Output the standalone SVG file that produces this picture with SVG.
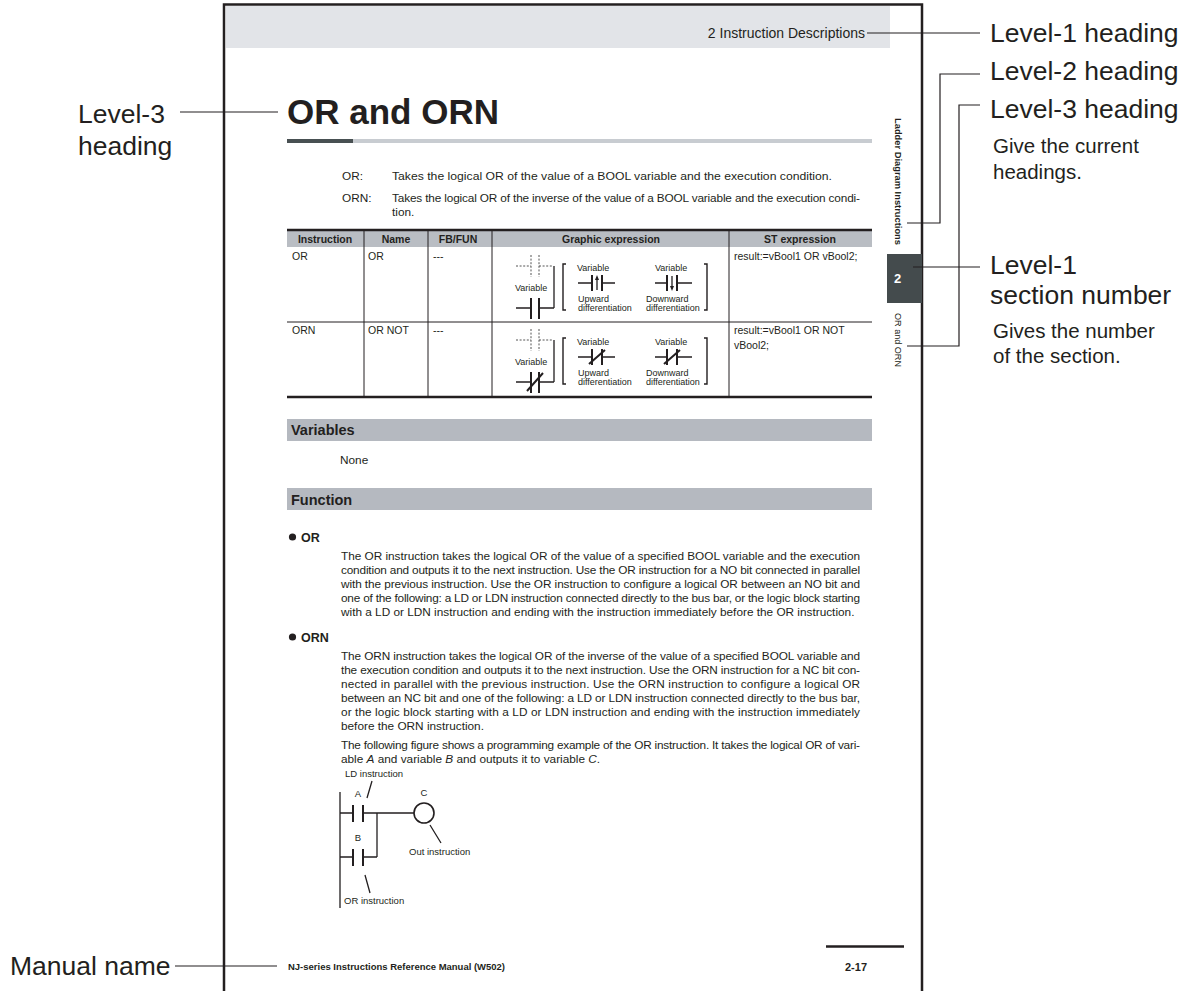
<svg xmlns="http://www.w3.org/2000/svg" width="1192" height="991" viewBox="0 0 1192 991">
<style>
text{font-family:"Liberation Sans",Arial,Helvetica,sans-serif;fill:#231f20}
.lab{font-size:26.5px}
.note{font-size:20.5px}
.body{font-size:11.8px}
.tb{font-size:10.5px}
.th{font-size:10.5px;font-weight:bold;text-anchor:middle}
.g{font-size:9px}
.b{font-weight:bold}
.i{font-style:italic}
.ln{stroke:#231f20;stroke-width:1.2;fill:none}
.frame{stroke:#231f20;stroke-width:2.5;fill:none}
.w{stroke:#231f20;stroke-width:1.3;fill:none}
.bar{stroke:#231f20;stroke-width:2;fill:none}
.dot{stroke:#555;stroke-width:1;stroke-dasharray:2 1.6;fill:none}
.br{stroke:#231f20;stroke-width:1.4;fill:none}
</style>

<!-- page -->
<g id="page">
  <rect x="226" y="6" width="664" height="42" fill="#e2e4e8"/>
  <path class="frame" d="M224 991V4.5H922V991"/>
  <text x="865" y="38" font-size="14" text-anchor="end">2 Instruction Descriptions</text>
</g>

<!-- title -->
<g id="title">
  <text x="287" y="124" font-size="35" class="b">OR and ORN</text>
  <rect x="287" y="139" width="585" height="4" fill="#c8ccd1"/>
  <rect x="287" y="139" width="66" height="4" fill="#485052"/>
  <text class="body" x="342" y="180">OR:</text>
  <text class="body" x="392" y="180" textLength="440" lengthAdjust="spacingAndGlyphs">Takes the logical OR of the value of a BOOL variable and the execution condition.</text>
  <text class="body" x="342" y="202">ORN:</text>
  <text class="body" x="392" y="202" textLength="468" lengthAdjust="spacing">Takes the logical OR of the inverse of the value of a BOOL variable and the execution condi-</text>
  <text class="body" x="392" y="216">tion.</text>
</g>

<!-- table -->
<g id="table">
  <rect x="287" y="231" width="585" height="16" fill="#b9bdc3"/>
  <path d="M287 230H872M287 397H872" stroke="#231f20" stroke-width="2.5"/>
  <path d="M287 322H872M364 231V397M428 231V397M492 231V397M729 231V397" stroke="#231f20" stroke-width="1"/>
  <text class="th" x="325" y="243">Instruction</text>
  <text class="th" x="396" y="243">Name</text>
  <text class="th" x="458" y="243">FB/FUN</text>
  <text class="th" x="611" y="243">Graphic expression</text>
  <text class="th" x="800" y="243">ST expression</text>

  <text class="tb" x="292" y="260">OR</text>
  <text class="tb" x="368" y="260">OR</text>
  <text class="tb" x="433" y="260">---</text>
  <text class="tb" x="734" y="260">result:=vBool1 OR vBool2;</text>

  <text class="tb" x="292" y="334">ORN</text>
  <text class="tb" x="368" y="334">OR NOT</text>
  <text class="tb" x="433" y="334">---</text>
  <text class="tb" x="734" y="334">result:=vBool1 OR NOT</text>
  <text class="tb" x="734" y="349">vBool2;</text>
</g>

<!-- graphic expression row 1 -->
<g id="graphic-or">
  <path class="dot" d="M516 266H531M539 266H553M531 255V277M539 255V277"/>
  <path class="w" d="M554 266V308M516 308H531M539 308H554"/>
  <path class="bar" d="M531 298V319M539 298V319"/>
  <text class="g" x="515" y="291">Variable</text>
  <path class="br" d="M566 264H563V310H566M704 264H707V310H704"/>
  <text class="g" x="577" y="271">Variable</text>
  <path class="w" d="M578 283H592M602 283H615M597 290V279"/>
  <path class="bar" d="M592 275V291M602 275V291"/>
  <path d="M597 275L595 280H599Z" fill="#231f20"/>
  <text class="g" x="578" y="302">Upward</text>
  <text class="g" x="578" y="311">differentiation</text>
  <text class="g" x="655" y="271">Variable</text>
  <path class="w" d="M655 283H667M677 283H692M672 276V287"/>
  <path class="bar" d="M667 275V291M677 275V291"/>
  <path d="M672 291L670 286H674Z" fill="#231f20"/>
  <text class="g" x="646" y="302">Downward</text>
  <text class="g" x="646" y="311">differentiation</text>
</g>

<!-- graphic expression row 2 -->
<g id="graphic-orn">
  <path class="dot" d="M516 340H531M539 340H553M531 329V351M539 329V351"/>
  <path class="w" d="M554 340V382M516 382H531M539 382H554"/>
  <path class="bar" d="M531 372V393M539 372V393M527 391L543 373"/>
  <text class="g" x="515" y="365">Variable</text>
  <path class="br" d="M566 338H563V384H566M704 338H707V384H704"/>
  <text class="g" x="577" y="345">Variable</text>
  <path class="w" d="M578 357H592M602 357H615"/>
  <path class="bar" d="M592 349V365M602 349V365M589 364L605 350"/>
  <text class="g" x="578" y="376">Upward</text>
  <text class="g" x="578" y="385">differentiation</text>
  <text class="g" x="655" y="345">Variable</text>
  <path class="w" d="M655 357H667M677 357H692"/>
  <path class="bar" d="M667 349V365M677 349V365M664 364L680 350"/>
  <text class="g" x="646" y="376">Downward</text>
  <text class="g" x="646" y="385">differentiation</text>
</g>

<!-- section bands -->
<g id="variables">
  <rect x="287" y="419" width="585" height="22" fill="#b5b9c0"/>
  <text x="291" y="435" font-size="14.5" class="b">Variables</text>
  <text class="body" x="340" y="464">None</text>
</g>

<g id="function">
  <rect x="287" y="488" width="585" height="22" fill="#b5b9c0"/>
  <text x="291" y="505" font-size="14.5" class="b">Function</text>

  <circle cx="292.5" cy="537" r="3.6" fill="#231f20"/>
  <text x="301" y="542" font-size="12.5" class="b">OR</text>
  <text class="body" x="341" y="560" textLength="519" lengthAdjust="spacing">The OR instruction takes the logical OR of the value of a specified BOOL variable and the execution</text>
  <text class="body" x="341" y="574" textLength="519" lengthAdjust="spacing">condition and outputs it to the next instruction. Use the OR instruction for a NO bit connected in parallel</text>
  <text class="body" x="341" y="588" textLength="519" lengthAdjust="spacing">with the previous instruction. Use the OR instruction to configure a logical OR between an NO bit and</text>
  <text class="body" x="341" y="602" textLength="519" lengthAdjust="spacing">one of the following: a LD or LDN instruction connected directly to the bus bar, or the logic block starting</text>
  <text class="body" x="341" y="616">with a LD or LDN instruction and ending with the instruction immediately before the OR instruction.</text>

  <circle cx="292.5" cy="637" r="3.6" fill="#231f20"/>
  <text x="301" y="642" font-size="12.5" class="b">ORN</text>
  <text class="body" x="341" y="660" textLength="519" lengthAdjust="spacing">The ORN instruction takes the logical OR of the inverse of the value of a specified BOOL variable and</text>
  <text class="body" x="341" y="674" textLength="519" lengthAdjust="spacing">the execution condition and outputs it to the next instruction. Use the ORN instruction for a NC bit con-</text>
  <text class="body" x="341" y="688" textLength="519" lengthAdjust="spacing">nected in parallel with the previous instruction. Use the ORN instruction to configure a logical OR</text>
  <text class="body" x="341" y="702" textLength="519" lengthAdjust="spacing">between an NC bit and one of the following: a LD or LDN instruction connected directly to the bus bar,</text>
  <text class="body" x="341" y="716" textLength="519" lengthAdjust="spacing">or the logic block starting with a LD or LDN instruction and ending with the instruction immediately</text>
  <text class="body" x="341" y="730">before the ORN instruction.</text>
  <text class="body" x="341" y="749" textLength="519" lengthAdjust="spacing">The following figure shows a programming example of the OR instruction. It takes the logical OR of vari-</text>
  <text class="body" x="341" y="763">able <tspan class="i">A</tspan> and variable <tspan class="i">B</tspan> and outputs it to variable <tspan class="i">C</tspan>.</text>
</g>

<!-- ladder example -->
<g id="ladder">
  <path class="w" d="M340 792V908M340 813H353M363 813H414M377 813V857M340 857H353M363 857H377"/>
  <path class="bar" d="M353 805V822M363 805V822M353 849V866M363 849V866"/>
  <circle cx="424" cy="813" r="10" fill="none" stroke="#231f20" stroke-width="1.6"/>
  <path class="w" d="M372 781L367 798M430 825L441 843M365 875L370 893"/>
  <text x="345" y="777" font-size="9.5">LD instruction</text>
  <text x="358" y="797" font-size="9.5" text-anchor="middle">A</text>
  <text x="424" y="796" font-size="9.5" text-anchor="middle">C</text>
  <text x="358" y="841" font-size="9.5" text-anchor="middle">B</text>
  <text x="409" y="855" font-size="9.5">Out instruction</text>
  <text x="344" y="904" font-size="9.5">OR instruction</text>
</g>

<!-- side tab -->
<g id="tab">
  <text transform="translate(895,118) rotate(90)" font-size="9" class="b" textLength="127" lengthAdjust="spacingAndGlyphs">Ladder Diagram Instructions</text>
  <rect x="887" y="254" width="35" height="49" fill="#444b4d"/>
  <text x="894" y="283" font-size="13" class="b" style="fill:#ffffff">2</text>
  <text transform="translate(895,313) rotate(90)" font-size="9" textLength="54" lengthAdjust="spacingAndGlyphs">OR and ORN</text>
</g>

<!-- footer -->
<g id="footer">
  <text x="288" y="970" font-size="9" class="b" textLength="217" lengthAdjust="spacingAndGlyphs">NJ-series Instructions Reference Manual (W502)</text>
  <path d="M826 946.5H904" stroke="#231f20" stroke-width="2.5"/>
  <text x="845" y="971" font-size="11" class="b">2-17</text>
</g>

<!-- annotation connectors -->
<g id="connectors" class="ln">
  <path d="M867 33H980"/>
  <path d="M907 223H940V74H980"/>
  <path d="M907 346H959V105H980"/>
  <path d="M913 267H980"/>
  <path d="M180 112H278"/>
  <path d="M175 966H277"/>
</g>

<!-- annotation labels -->
<g id="lbl-level1"><text class="lab" x="990" y="42">Level-1 heading</text></g>
<g id="lbl-level2"><text class="lab" x="990" y="80">Level-2 heading</text></g>
<g id="lbl-level3"><text class="lab" x="990" y="118">Level-3 heading</text>
  <text class="note" x="993" y="153">Give the current</text>
  <text class="note" x="993" y="179">headings.</text></g>
<g id="lbl-section"><text class="lab" x="990" y="274">Level-1</text>
  <text class="lab" x="990" y="304">section number</text>
  <text class="note" x="993" y="338">Gives the number</text>
  <text class="note" x="993" y="363">of the section.</text></g>
<g id="lbl-level3-left"><text class="lab" x="78" y="123">Level-3</text>
  <text class="lab" x="78" y="155">heading</text></g>
<g id="lbl-manual"><text class="lab" x="10" y="975">Manual name</text></g>
</svg>
